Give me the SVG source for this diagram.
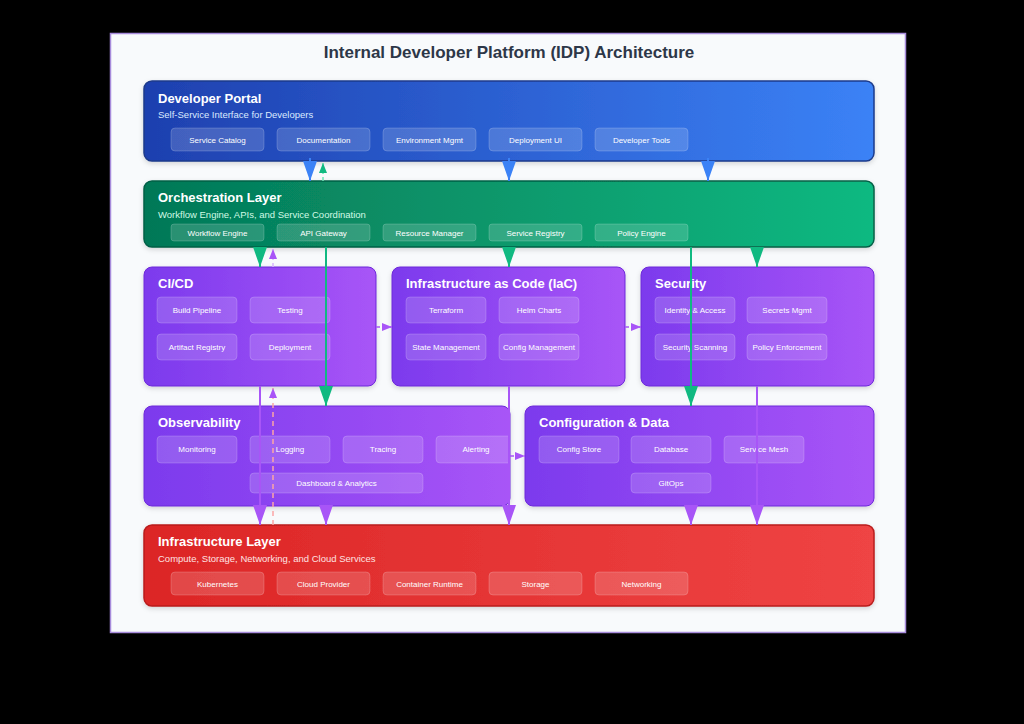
<svg xmlns="http://www.w3.org/2000/svg" width="1024" height="724" viewBox="0 0 1024 724">
<style>
.ttl{font-family:"Liberation Sans",Arial,sans-serif;font-weight:bold;fill:#ffffff;font-size:13px}
.sub{font-family:"Liberation Sans",Arial,sans-serif;font-size:9.5px}
.bx{fill:#ffffff;fill-opacity:0.16;stroke:#ffffff;stroke-opacity:0.18;stroke-width:1}
.bt{font-family:"Liberation Sans",Arial,sans-serif;font-size:8px;fill:#ffffff;text-anchor:middle}
.blue{stroke:#3b82f6;stroke-width:2;fill:none}
.green{stroke:#10b981;stroke-width:2;fill:none}
.purple{stroke:#a855f7;stroke-width:2;fill:none}
</style>
<defs>
<linearGradient id="gBlue" x1="0" y1="0" x2="1" y2="0"><stop offset="0" stop-color="#1e40af"/><stop offset="1" stop-color="#3b82f6"/></linearGradient>
<linearGradient id="gGreen" x1="0" y1="0" x2="1" y2="0"><stop offset="0" stop-color="#047857"/><stop offset="1" stop-color="#10b981"/></linearGradient>
<linearGradient id="gPurple" x1="0" y1="0" x2="1" y2="0"><stop offset="0" stop-color="#7c3aed"/><stop offset="1" stop-color="#a855f7"/></linearGradient>
<linearGradient id="gRed" x1="0" y1="0" x2="1" y2="0"><stop offset="0" stop-color="#dc2626"/><stop offset="1" stop-color="#ef4444"/></linearGradient>
<filter id="sh" x="-5%" y="-10%" width="110%" height="130%"><feDropShadow dx="0" dy="2" stdDeviation="2.5" flood-color="#000" flood-opacity="0.15"/></filter>
<marker id="aBlue" viewBox="0 0 20 14" refX="20" refY="7" markerWidth="20" markerHeight="14" orient="auto" markerUnits="userSpaceOnUse"><path d="M0,0 L20,7 L0,14 z" fill="#3b82f6"/></marker>
<marker id="aGreen" viewBox="0 0 20 14" refX="20" refY="7" markerWidth="20" markerHeight="14" orient="auto" markerUnits="userSpaceOnUse"><path d="M0,0 L20,7 L0,14 z" fill="#10b981"/></marker>
<marker id="aPurple" viewBox="0 0 20 14" refX="20" refY="7" markerWidth="20" markerHeight="14" orient="auto" markerUnits="userSpaceOnUse"><path d="M0,0 L20,7 L0,14 z" fill="#a855f7"/></marker>
<marker id="sGreen" viewBox="0 0 10 8" refX="10" refY="4" markerWidth="10" markerHeight="8" orient="auto" markerUnits="userSpaceOnUse"><path d="M0,0 L10,4 L0,8 z" fill="#10b981"/></marker>
<marker id="sPurple" viewBox="0 0 10 8" refX="10" refY="4" markerWidth="10" markerHeight="8" orient="auto" markerUnits="userSpaceOnUse"><path d="M0,0 L10,4 L0,8 z" fill="#a855f7"/></marker>
<clipPath id="obsClip"><rect x="144" y="406" width="366" height="100" rx="8"/></clipPath>
</defs>
<rect x="0" y="0" width="1024" height="724" fill="#000000"/>
<rect x="110.5" y="33.5" width="795" height="599" fill="#f8fafc" stroke="#a78bdb" stroke-width="1.5"/>
<text x="509" y="58" text-anchor="middle" font-family="'Liberation Sans',Arial,sans-serif" font-weight="bold" font-size="17" fill="#2d3748">Internal Developer Platform (IDP) Architecture</text>

<g id="portal">
<rect x="144" y="81" width="730" height="80" rx="8" fill="url(#gBlue)" stroke="#1e3a8a" stroke-width="1.5" filter="url(#sh)"/>
<text class="ttl" x="158" y="103">Developer Portal</text>
<text class="sub" x="158" y="118" fill="#dbeafe">Self-Service Interface for Developers</text>
<rect class="bx" x="171" y="128" width="93" height="23" rx="4"/><text class="bt" x="217.5" y="142.5">Service Catalog</text>
<rect class="bx" x="277" y="128" width="93" height="23" rx="4"/><text class="bt" x="323.5" y="142.5">Documentation</text>
<rect class="bx" x="383" y="128" width="93" height="23" rx="4"/><text class="bt" x="429.5" y="142.5">Environment Mgmt</text>
<rect class="bx" x="489" y="128" width="93" height="23" rx="4"/><text class="bt" x="535.5" y="142.5">Deployment UI</text>
<rect class="bx" x="595" y="128" width="93" height="23" rx="4"/><text class="bt" x="641.5" y="142.5">Developer Tools</text>
</g>

<g id="orchestration">
<rect x="144" y="181" width="730" height="66" rx="8" fill="url(#gGreen)" stroke="#065f46" stroke-width="1.5" filter="url(#sh)"/>
<text class="ttl" x="158" y="202">Orchestration Layer</text>
<text class="sub" x="158" y="218" fill="#d1fae5">Workflow Engine, APIs, and Service Coordination</text>
<rect class="bx" x="171" y="224" width="93" height="17" rx="3"/><text class="bt" x="217.5" y="235.5">Workflow Engine</text>
<rect class="bx" x="277" y="224" width="93" height="17" rx="3"/><text class="bt" x="323.5" y="235.5">API Gateway</text>
<rect class="bx" x="383" y="224" width="93" height="17" rx="3"/><text class="bt" x="429.5" y="235.5">Resource Manager</text>
<rect class="bx" x="489" y="224" width="93" height="17" rx="3"/><text class="bt" x="535.5" y="235.5">Service Registry</text>
<rect class="bx" x="595" y="224" width="93" height="17" rx="3"/><text class="bt" x="641.5" y="235.5">Policy Engine</text>
</g>

<g id="cicd">
<rect x="144" y="267" width="232" height="119" rx="8" fill="url(#gPurple)" stroke="#6d28d9" stroke-width="1" filter="url(#sh)"/>
<text class="ttl" x="158" y="288">CI/CD</text>
<rect class="bx" x="157" y="297" width="80" height="26" rx="4"/><text class="bt" x="197" y="313">Build Pipeline</text>
<rect class="bx" x="250" y="297" width="80" height="26" rx="4"/><text class="bt" x="290" y="313">Testing</text>
<rect class="bx" x="157" y="334" width="80" height="26" rx="4"/><text class="bt" x="197" y="350">Artifact Registry</text>
<rect class="bx" x="250" y="334" width="80" height="26" rx="4"/><text class="bt" x="290" y="350">Deployment</text>
</g>

<g id="iac">
<rect x="392" y="267" width="233" height="119" rx="8" fill="url(#gPurple)" stroke="#6d28d9" stroke-width="1" filter="url(#sh)"/>
<text class="ttl" x="406" y="288">Infrastructure as Code (IaC)</text>
<rect class="bx" x="406" y="297" width="80" height="26" rx="4"/><text class="bt" x="446" y="313">Terraform</text>
<rect class="bx" x="499" y="297" width="80" height="26" rx="4"/><text class="bt" x="539" y="313">Helm Charts</text>
<rect class="bx" x="406" y="334" width="80" height="26" rx="4"/><text class="bt" x="446" y="350">State Management</text>
<rect class="bx" x="499" y="334" width="80" height="26" rx="4"/><text class="bt" x="539" y="350">Config Management</text>
</g>

<g id="security">
<rect x="641" y="267" width="233" height="119" rx="8" fill="url(#gPurple)" stroke="#6d28d9" stroke-width="1" filter="url(#sh)"/>
<text class="ttl" x="655" y="288">Security</text>
<rect class="bx" x="655" y="297" width="80" height="26" rx="4"/><text class="bt" x="695" y="313">Identity &amp; Access</text>
<rect class="bx" x="747" y="297" width="80" height="26" rx="4"/><text class="bt" x="787" y="313">Secrets Mgmt</text>
<rect class="bx" x="655" y="334" width="80" height="26" rx="4"/><text class="bt" x="695" y="350">Security Scanning</text>
<rect class="bx" x="747" y="334" width="80" height="26" rx="4"/><text class="bt" x="787" y="350">Policy Enforcement</text>
</g>

<g id="observability">
<rect x="144" y="406" width="366" height="100" rx="8" fill="url(#gPurple)" stroke="#6d28d9" stroke-width="1" filter="url(#sh)"/>
<text class="ttl" x="158" y="427">Observability</text>
<g clip-path="url(#obsClip)">
<rect class="bx" x="157" y="436" width="80" height="27" rx="4"/><text class="bt" x="197" y="452">Monitoring</text>
<rect class="bx" x="250" y="436" width="80" height="27" rx="4"/><text class="bt" x="290" y="452">Logging</text>
<rect class="bx" x="343" y="436" width="80" height="27" rx="4"/><text class="bt" x="383" y="452">Tracing</text>
<rect class="bx" x="436" y="436" width="80" height="27" rx="4"/><text class="bt" x="476" y="452">Alerting</text>
<rect class="bx" x="250" y="473" width="173" height="20" rx="4"/><text class="bt" x="336.5" y="486">Dashboard &amp; Analytics</text>
</g>
</g>

<g id="configdata">
<rect x="525" y="406" width="349" height="100" rx="8" fill="url(#gPurple)" stroke="#6d28d9" stroke-width="1" filter="url(#sh)"/>
<text class="ttl" x="539" y="427">Configuration &amp; Data</text>
<rect class="bx" x="539" y="436" width="80" height="27" rx="4"/><text class="bt" x="579" y="452">Config Store</text>
<rect class="bx" x="631" y="436" width="80" height="27" rx="4"/><text class="bt" x="671" y="452">Database</text>
<rect class="bx" x="724" y="436" width="80" height="27" rx="4"/><text class="bt" x="764" y="452">Service Mesh</text>
<rect class="bx" x="631" y="473" width="80" height="20" rx="4"/><text class="bt" x="671" y="486">GitOps</text>
</g>

<g id="infrastructure">
<rect x="144" y="525" width="730" height="81" rx="8" fill="url(#gRed)" stroke="#b91c1c" stroke-width="1.5" filter="url(#sh)"/>
<text class="ttl" x="158" y="546">Infrastructure Layer</text>
<text class="sub" x="158" y="562" fill="#fee2e2">Compute, Storage, Networking, and Cloud Services</text>
<rect class="bx" x="171" y="572" width="93" height="23" rx="4"/><text class="bt" x="217.5" y="586.5">Kubernetes</text>
<rect class="bx" x="277" y="572" width="93" height="23" rx="4"/><text class="bt" x="323.5" y="586.5">Cloud Provider</text>
<rect class="bx" x="383" y="572" width="93" height="23" rx="4"/><text class="bt" x="429.5" y="586.5">Container Runtime</text>
<rect class="bx" x="489" y="572" width="93" height="23" rx="4"/><text class="bt" x="535.5" y="586.5">Storage</text>
<rect class="bx" x="595" y="572" width="93" height="23" rx="4"/><text class="bt" x="641.5" y="586.5">Networking</text>
</g>

<g id="connectors">
<path class="blue" d="M310,158 L310,181" marker-end="url(#aBlue)"/>
<path class="blue" d="M509,158 L509,181" marker-end="url(#aBlue)"/>
<path class="blue" d="M708,158 L708,181" marker-end="url(#aBlue)"/>
<path d="M323,181 L323,163" stroke="#6ee7b7" stroke-width="1.5" stroke-dasharray="4,3" fill="none" marker-end="url(#sGreen)"/>
<path class="green" d="M260,247 L260,267" marker-end="url(#aGreen)"/>
<path class="green" d="M509,247 L509,267" marker-end="url(#aGreen)"/>
<path class="green" d="M757,247 L757,267" marker-end="url(#aGreen)"/>
<path d="M273,267 L273,249" stroke="#d8b4fe" stroke-width="1.5" stroke-dasharray="4,3" fill="none" marker-end="url(#sPurple)"/>
<path class="green" d="M326,247 L326,406" marker-end="url(#aGreen)"/>
<path class="green" d="M691,247 L691,406" marker-end="url(#aGreen)"/>
<path d="M376,327 L392,327" stroke="#a855f7" stroke-width="1.5" stroke-dasharray="4,3" fill="none" marker-end="url(#sPurple)"/>
<path d="M625,327 L641,327" stroke="#a855f7" stroke-width="1.5" stroke-dasharray="4,3" fill="none" marker-end="url(#sPurple)"/>
<path d="M510,456 L525,456" stroke="#a855f7" stroke-width="1.5" stroke-dasharray="4,3" fill="none" marker-end="url(#sPurple)"/>
<path class="purple" d="M260,386 L260,525" marker-end="url(#aPurple)"/>
<path class="purple" d="M509,386 L509,525" marker-end="url(#aPurple)"/>
<path class="purple" d="M757,386 L757,525" marker-end="url(#aPurple)"/>
<path class="purple" d="M326,506 L326,525" marker-end="url(#aPurple)"/>
<path class="purple" d="M691,506 L691,525" marker-end="url(#aPurple)"/>
<path d="M273,525 L273,388" stroke="#fca5a5" stroke-width="1.5" stroke-dasharray="5,4" fill="none" marker-end="url(#sPurple)"/>
</g>
</svg>
